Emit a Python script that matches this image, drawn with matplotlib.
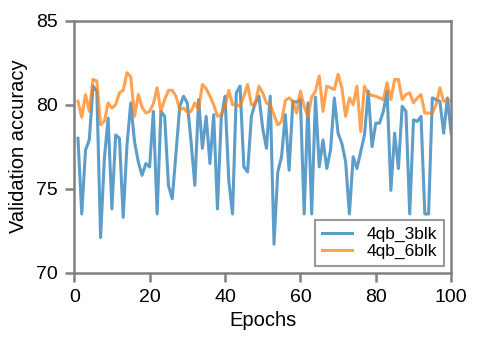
import matplotlib
matplotlib.use("Agg")
import matplotlib.pyplot as plt
import numpy as np

epochs = list(range(1, 101))

acc_3blk = [78.0, 73.5, 77.3, 77.9, 81.1, 80.8, 72.1, 76.8, 79.2, 73.8,
            78.2, 78.0, 73.3, 77.6, 80.1, 77.8, 76.6, 75.8, 76.5, 76.3,
            79.6, 73.5, 79.6, 79.3, 75.2, 74.4, 77.1, 79.9, 80.5, 80.1,
            77.8, 75.2, 80.3, 77.4, 79.3, 76.5, 79.4, 73.8, 79.2, 80.5,
            75.5, 73.5, 80.7, 81.1, 76.3, 76.0, 79.3, 80.1, 80.5, 78.6,
            77.4, 80.5, 71.7, 76.0, 76.9, 79.4, 76.1, 80.2, 80.15, 80.3,
            73.5, 80.1, 73.5, 80.45, 76.3, 77.9, 76.2, 77.3, 80.4, 78.3,
            77.7, 76.6, 73.5, 76.9, 76.2, 77.2, 78.2, 80.8, 77.5, 78.9,
            78.9, 79.6, 80.8, 74.9, 78.3, 76.2, 79.9, 79.6, 73.5, 79.1,
            79.0, 79.3, 73.5, 73.5, 80.4, 80.3, 80.2, 78.3, 80.4, 78.3]

acc_6blk = [80.2, 79.25, 80.6, 79.6, 81.5, 81.4, 78.8, 79.0, 80.1, 79.8,
            80.0, 80.7, 80.85, 81.9, 81.65, 79.3, 80.6, 79.85, 79.5, 79.6,
            80.05, 81.0, 79.6, 80.3, 80.85, 80.85, 80.5, 79.7, 79.8, 79.55,
            79.6, 80.1, 79.7, 81.2, 80.95, 80.5, 80.0, 79.3, 79.4, 79.9,
            80.85, 80.0, 80.0, 79.9, 80.5, 81.2, 80.0, 80.0, 81.1, 80.7,
            80.1, 80.0, 79.4, 78.8, 79.0, 80.25, 80.4, 80.2, 79.5, 80.8,
            79.9, 79.3, 80.45, 80.8, 81.7, 79.6, 81.1, 81.0, 80.9, 81.8,
            81.0, 79.3, 80.4, 80.0, 81.1, 78.4, 81.1, 80.65, 80.55, 80.5,
            80.4, 80.3, 81.3, 80.3, 81.5, 81.5, 80.3, 80.6, 80.7, 80.1,
            80.4, 80.6, 79.5, 79.5, 79.5, 80.0, 81.0, 80.2, 80.3, 80.2]

series_labels = ["4qb_3blk", "4qb_6blk"]
x_ticks = [0, 20, 40, 60, 80, 100]
y_ticks = [70, 75, 80, 85]

plt.rcParams['font.family'] = ['Liberation Sans', 'DejaVu Sans']

fig = plt.figure(figsize=(4.98, 3.48), dpi=100)
ax = fig.add_axes([0.149, 0.216, 0.757, 0.725])

ax.plot(epochs, acc_3blk, color='#1f77b4', alpha=0.72, lw=2.2, label=series_labels[0])
ax.plot(epochs, acc_6blk, color='#ff7f0e', alpha=0.72, lw=2.2, label=series_labels[1])

ax.set_xlim(0, 100)
ax.set_ylim(70, 85)
ax.set_xticks(x_ticks)
ax.set_yticks(y_ticks)

spine_color = '#808080'
for s in ax.spines.values():
    s.set_color(spine_color)
    s.set_linewidth(1.8)
ax.tick_params(axis='both', direction='out', length=6.5, width=1.8,
               color=spine_color, labelsize=14, labelcolor='black', pad=5)

ax.set_xlabel("Epochs", fontsize=14.5, labelpad=4)
ax.set_ylabel("Validation accuracy", fontsize=14.5, labelpad=6)

leg = ax.legend(loc='lower right', fontsize=12.5, frameon=True, fancybox=False,
                edgecolor=spine_color, handlelength=1.75, handletextpad=0.85,
                borderpad=0.4, labelspacing=0.1, borderaxespad=0.4)
leg.get_frame().set_linewidth(1.5)

fig.savefig("out.png", dpi=100)
